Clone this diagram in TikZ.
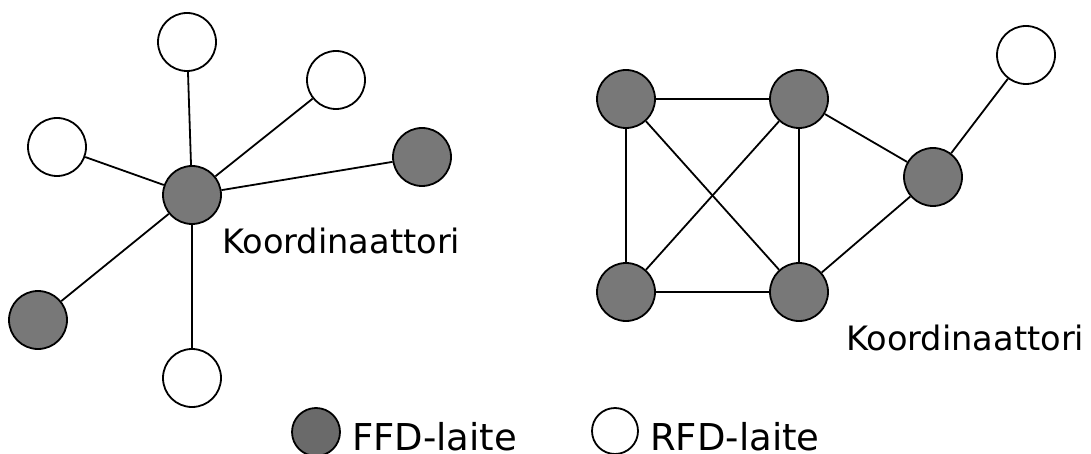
\documentclass[tikz,border=0pt]{standalone}
\usepackage{fontspec}
\setmainfont{DejaVu Sans}
\definecolor{ffdgray}{RGB}{120,120,120}
\definecolor{leggray}{RGB}{106,106,106}
\begin{document}
\begin{tikzpicture}[x=1pt,y=-1pt,
  dev/.style={circle,draw=black,line width=1.8pt,minimum size=58pt,inner sep=0pt},
  ffd/.style={dev,fill=ffdgray},
  rfd/.style={dev,fill=white},
  link/.style={line width=1.8pt,draw=black},
  lbl/.style={inner sep=0pt,anchor=base west,font=\fontsize{33.6}{40}\selectfont},
  leg/.style={inner sep=0pt,anchor=base west,font=\fontsize{37}{44}\selectfont}]
\useasboundingbox (0,0) rectangle (1091,454);
% left star network
\node[ffd] (c) at (192,195) {};
\node[rfd] (t) at (187,42) {};
\node[rfd] (ur) at (336,80) {};
\node[rfd] (l) at (57,147) {};
\node[ffd] (r) at (422,157) {};
\node[ffd] (bl) at (38,320) {};
\node[rfd] (b) at (192,378) {};
\foreach \n in {t,ur,l,r,bl,b} \draw[link] (c) -- (\n);
\node[lbl] (k1) at (222,253) {Koordinaattori};
% right mesh network
\node[ffd] (m1) at (626,99) {};
\node[ffd] (m2) at (799,99) {};
\node[ffd] (m3) at (626,292) {};
\node[ffd] (m4) at (799,292) {};
\node[ffd] (m5) at (933,177) {};
\node[rfd] (m6) at (1026,55) {};
\draw[link] (m1) -- (m2);
\draw[link] (m1) -- (m3);
\draw[link] (m1) -- (m4);
\draw[link] (m2) -- (m3);
\draw[link] (m2) -- (m4);
\draw[link] (m3) -- (m4);
\draw[link] (m2) -- (m5);
\draw[link] (m4) -- (m5);
\draw[link] (m5) -- (m6);
\node[lbl] (k2) at (846,350) {Koordinaattori};
% legend
\node[circle,draw=black,line width=1.8pt,minimum size=48pt,inner sep=0pt,fill=leggray] (lf) at (316,432) {};
\node[leg] (tf) at (352,450) {FFD-laite};
\node[circle,draw=black,line width=1.8pt,minimum size=46pt,inner sep=0pt,fill=white] (lr) at (615,431) {};
\node[leg] (tr) at (650,450) {RFD-laite};
\end{tikzpicture}
\end{document}
